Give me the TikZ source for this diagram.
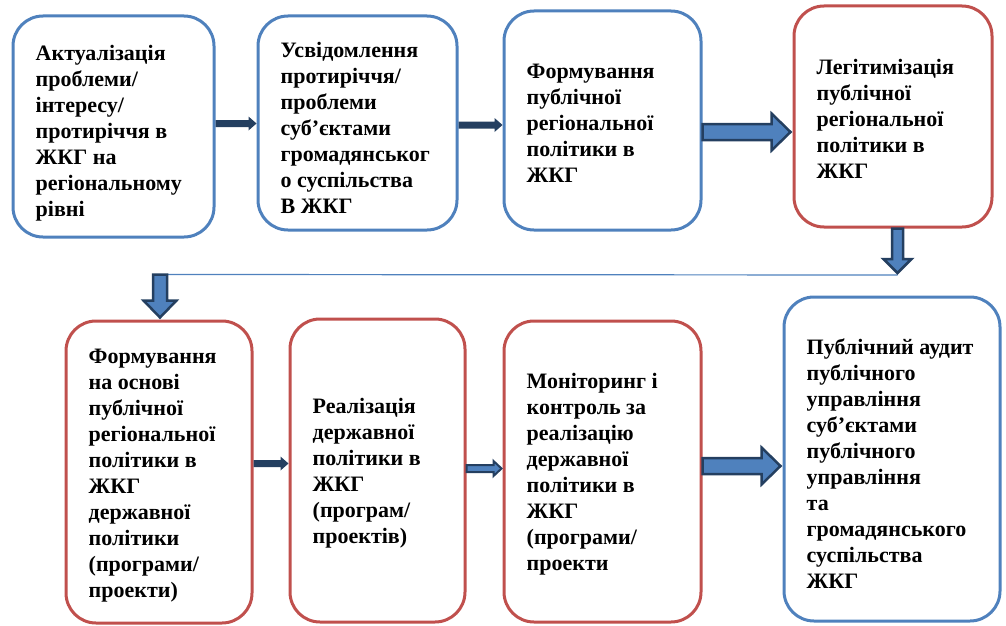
\documentclass[tikz,border=0pt]{standalone}
\usepackage{fontspec}
\setmainfont{Liberation Serif}
\usetikzlibrary{calc}
\definecolor{bblue}{HTML}{4F81BD}
\definecolor{bred}{HTML}{C0504D}
\definecolor{navy}{HTML}{243F60}
\newcommand\hblockarrow[6]{%
  \path[#1] let \p1=#2, \p2=#3 in
    (\x1,\y1+#4) -- (\x2-#6,\y1+#4) -- (\x2-#6,\y1+#5) -- (\x2,\y1)
    -- (\x2-#6,\y1-#5) -- (\x2-#6,\y1-#4) -- (\x1,\y1-#4) -- cycle;}
\newcommand\vblockarrow[6]{%
  \path[#1] let \p1=#2, \p2=#3 in
    (\x1-#4,\y1) -- (\x1-#4,\y2+#6) -- (\x1-#5,\y2+#6) -- (\x1,\y2)
    -- (\x1+#5,\y2+#6) -- (\x1+#4,\y2+#6) -- (\x1+#4,\y1) -- cycle;}
\begin{document}
\begin{tikzpicture}[x=1pt,y=-1pt,
  box/.style={draw, line width=3pt, rounded corners=30pt, inner sep=0pt},
  bluebox/.style={box, draw=bblue},
  redbox/.style={box, draw=bred},
  txt/.style={anchor=west, align=left, inner sep=0pt,
    font=\fontsize{22}{26}\selectfont\bfseries},
  thinarrow/.style={fill=navy},
  midarrow/.style={fill=bblue, draw=navy, line width=2pt, line join=miter},
  blockarrow/.style={fill=bblue, draw=navy, line width=2.5pt, line join=miter},
  conn/.style={draw=bblue, line width=1.2pt}]
\useasboundingbox (0,0) rectangle (1006,626);
% boxes
\node[bluebox, minimum width=201pt, minimum height=221pt] (b1) at (113.5,126.5) {};
\node[bluebox, minimum width=199pt, minimum height=214pt] (b2) at (357.5,123) {};
\node[bluebox, minimum width=197pt, minimum height=219pt] (b3) at (602.5,120.5) {};
\node[redbox,  minimum width=198pt, minimum height=221pt] (b4) at (893,116.5) {};
\node[redbox,  minimum width=186pt, minimum height=302pt] (b5) at (159,472) {};
\node[redbox,  minimum width=175pt, minimum height=303pt] (b6) at (377.5,470.5) {};
\node[redbox,  minimum width=197pt, minimum height=301pt] (b7) at (602.5,471.5) {};
\node[bluebox, minimum width=216pt, minimum height=324pt] (b8) at (892,459) {};
% texts
\node[txt] (t1) at ([xshift=24pt,yshift=-6.5pt]b1.west) {Актуалізація\\проблеми/\\інтересу/\\протиріччя в\\ЖКГ на\\регіональному\\рівні};
\node[txt] (t2) at ([xshift=24pt,yshift=-4.5pt]b2.west) {Усвідомлення\\протиріччя/\\проблеми\\суб’єктами\\громадянськог\\о суспільства\\В ЖКГ};
\node[txt] (t3) at ([xshift=24pt,yshift=-2.5pt]b3.west) {Формування\\публічної\\регіональної\\політики в\\ЖКГ};
\node[txt] (t4) at ([xshift=24pt,yshift=-2.5pt]b4.west) {Легітимізація\\публічної\\регіональної\\політики в\\ЖКГ};
\node[txt] (t5) at ([xshift=24pt,yshift=-3.5pt]b5.west) {Формування\\на основі\\публічної\\регіональної\\політики в\\ЖКГ\\державної\\політики\\(програми/\\проекти)};
\node[txt] (t6) at ([xshift=24pt,yshift=-3pt]b6.west) {Реалізація\\державної\\політики в\\ЖКГ\\(програм/\\проектів)};
\node[txt] (t7) at ([xshift=24pt,yshift=-3pt]b7.west) {Моніторинг і\\контроль за\\реалізацію\\державної\\політики в\\ЖКГ\\(програми/\\проекти};
\node[txt] (t8) at ([xshift=24pt,yshift=-4.5pt]b8.west) {Публічний аудит\\публічного\\управління\\суб’єктами\\публічного\\управління\\та\\громадянського\\суспільства\\ЖКГ};
% junction coordinates
\coordinate (j1) at (897.5,275);
\coordinate (j2) at (160,274.5);
% connectors
\hblockarrow{thinarrow}{([yshift=3pt]b1.east)}{(b2.west)}{3.5pt}{7pt}{8pt}
\hblockarrow{thinarrow}{([yshift=-2pt]b2.east)}{(b3.west)}{3.5pt}{7pt}{8pt}
\hblockarrow{blockarrow}{([yshift=-11.5pt]b3.east)}{([xshift=-2pt]b4.west)}{8pt}{18.5pt}{19pt}
\draw[conn] ([xshift=7pt]j2) -- (j1);
\vblockarrow{blockarrow}{([xshift=4.5pt]b4.south)}{([yshift=2pt]j1)}{5.5pt}{14pt}{14pt}
\vblockarrow{blockarrow}{(j2)}{([yshift=2pt]b5.north -| j2)}{7pt}{16.5pt}{17pt}
\hblockarrow{thinarrow}{([yshift=8.5pt]b5.east)}{(b6.west)}{3.5pt}{7pt}{8pt}
\hblockarrow{midarrow}{([yshift=2pt]b6.east)}{([xshift=-1pt]b7.west)}{3.5pt}{7.5pt}{8pt}
\hblockarrow{blockarrow}{([yshift=5.5pt]b7.east)}{([xshift=-2pt]b8.west)}{8pt}{18.5pt}{19pt}
\end{tikzpicture}
\end{document}
